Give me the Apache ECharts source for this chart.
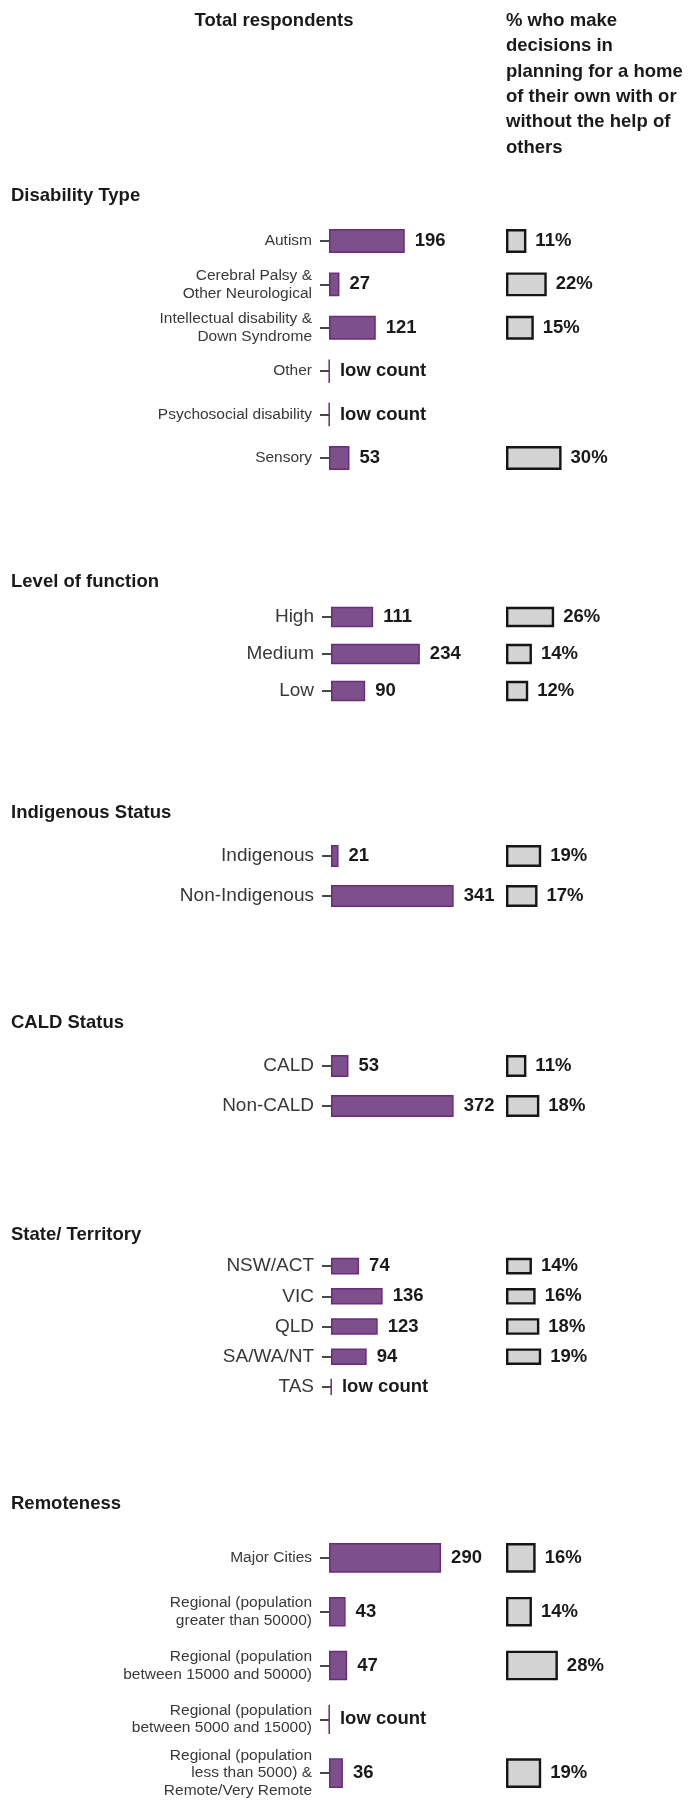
<!DOCTYPE html>
<html>
<head>
<meta charset="utf-8">
<script src="https://cdn.jsdelivr.net/npm/echarts@6/dist/echarts.min.js"></script>
<style>
  html, body { margin: 0; padding: 0; background: #ffffff; }
  #chart { width: 689px; height: 1800px; }
</style>
</head>
<body>
<div id="chart"></div>
<script>
// ---- data ----
const headerLeft = 'Total respondents';
const headerRight = ['% who make', 'decisions in', 'planning for a home', 'of their own with or', 'without the help of', 'others'];
const sectionTitles = ['Disability Type', 'Level of function', 'Indigenous Status', 'CALD Status', 'State/ Territory', 'Remoteness'];

const disabilityCats = ['Autism', 'Cerebral Palsy &\nOther Neurological', 'Intellectual disability &\nDown Syndrome', 'Other', 'Psychosocial disability', 'Sensory'];
const disabilityCounts = [196, 27, 121, null, null, 53];
const disabilityPct = [11, 22, 15, null, null, 30];

const functionCats = ['High', 'Medium', 'Low'];
const functionCounts = [111, 234, 90];
const functionPct = [26, 14, 12];

const indigenousCats = ['Indigenous', 'Non-Indigenous'];
const indigenousCounts = [21, 341];
const indigenousPct = [19, 17];

const caldCats = ['CALD', 'Non-CALD'];
const caldCounts = [53, 372];
const caldPct = [11, 18];

const stateCats = ['NSW/ACT', 'VIC', 'QLD', 'SA/WA/NT', 'TAS'];
const stateCounts = [74, 136, 123, 94, null];
const statePct = [14, 16, 18, 19, null];

const remoteCats = ['Major Cities', 'Regional (population\ngreater than 50000)', 'Regional (population\nbetween 15000 and 50000)', 'Regional (population\nbetween 5000 and 15000)', 'Regional (population\nless than 5000) &\nRemote/Very Remote'];
const remoteCounts = [290, 43, 47, null, 36];
const remotePct = [16, 14, 28, null, 19];

// counts suppressed for small groups are drawn as a hairline stub
const LOW_COUNT_LABEL = 'low count';
const LOW_COUNT_STUB = 1;

// ---- layout ----
const FONT = '"Liberation Sans", Arial, Helvetica, sans-serif';
const PURPLE = '#7d4f8b';
const PURPLE_EDGE = '#6a2c7e';
const GREY = '#d3d3d3';
const GREY_EDGE = '#151515';

const sections = [
  { cats: disabilityCats, counts: disabilityCounts, pct: disabilityPct, titleY: 197, top: 219.3, step: 43.4, left: 329, countMax: 388, labelSize: 15.5 },
  { cats: functionCats, counts: functionCounts, pct: functionPct, titleY: 583, top: 598.5, step: 37, left: 331, countMax: 395, labelSize: 19 },
  { cats: indigenousCats, counts: indigenousCounts, pct: indigenousPct, titleY: 814, top: 836, step: 40, left: 331, countMax: 417, labelSize: 19 },
  { cats: caldCats, counts: caldCounts, pct: caldPct, titleY: 1024, top: 1046, step: 40, left: 331, countMax: 455, labelSize: 19 },
  { cats: stateCats, counts: stateCounts, pct: statePct, titleY: 1236, top: 1251, step: 30.2, left: 331, countMax: 395, labelSize: 19 },
  { cats: remoteCats, counts: remoteCounts, pct: remotePct, titleY: 1505, top: 1531, step: 54, left: 329, countMax: 388, labelSize: 15.5 }
];
const COUNT_W = 150;
const PCT_LEFT = 506;
const PCT_W = 100;
const PCT_MAX = 54;

const grid = [], xAxis = [], yAxis = [], series = [], graphic = [];

sections.forEach((s, i) => {
  const h = s.cats.length * s.step;
  const gc = i * 2, gp = i * 2 + 1;
  grid.push({ left: s.left, top: s.top, width: COUNT_W, height: h });
  grid.push({ left: PCT_LEFT, top: s.top, width: PCT_W, height: h });

  xAxis.push({ gridIndex: gc, type: 'value', min: 0, max: s.countMax, show: false });
  xAxis.push({ gridIndex: gp, type: 'value', min: 0, max: PCT_MAX, show: false });

  yAxis.push({
    gridIndex: gc, type: 'category', inverse: true, data: s.cats, offset: 4,
    axisLine: { show: false },
    axisTick: { show: true, length: 9, alignWithLabel: true, lineStyle: { color: '#333333', width: 1.8 } },
    axisLabel: { margin: 13, color: '#383838', fontFamily: FONT, fontSize: s.labelSize, lineHeight: s.labelSize * 1.15, align: 'right' },
    splitLine: { show: false }
  });
  yAxis.push({ gridIndex: gp, type: 'category', inverse: true, data: s.cats, show: false });

  series.push({
    type: 'bar', xAxisIndex: gc, yAxisIndex: gc, barWidth: '55%',
    itemStyle: { color: PURPLE, borderColor: PURPLE_EDGE, borderWidth: 1.5 },
    label: { show: true, position: 'right', distance: 10, color: '#1a1a1a', fontFamily: FONT, fontWeight: 'bold', fontSize: 18.5 },
    data: s.counts.map(v => v === null
      ? { value: LOW_COUNT_STUB, label: { formatter: LOW_COUNT_LABEL } }
      : v),
    silent: true, animation: false
  });
  series.push({
    type: 'bar', xAxisIndex: gp, yAxisIndex: gp, barWidth: '55%',
    itemStyle: { color: GREY, borderColor: GREY_EDGE, borderWidth: 2.4 },
    label: { show: true, position: 'right', distance: 9, color: '#1a1a1a', fontFamily: FONT, fontWeight: 'bold', fontSize: 18.5, formatter: p => p.value + '%' },
    data: s.pct.map(v => v === null ? '-' : v),
    silent: true, animation: false
  });

  graphic.push({
    type: 'text', left: 11, top: s.titleY - 11,
    style: { text: sectionTitles[i], fill: '#1a1a1a', font: 'bold 18.5px ' + FONT }
  });
});

graphic.push({
  type: 'text', x: 274, y: 21,
  style: { text: headerLeft, fill: '#1a1a1a', font: 'bold 18.5px ' + FONT, align: 'center', verticalAlign: 'middle' }
});
headerRight.forEach((line, k) => {
  graphic.push({
    type: 'text', x: PCT_LEFT, y: 21 + k * 25.3,
    style: { text: line, fill: '#1a1a1a', font: 'bold 18.5px ' + FONT, align: 'left', verticalAlign: 'middle' }
  });
});

const chart = echarts.init(document.getElementById('chart'), null, { renderer: 'canvas' });
chart.setOption({
  backgroundColor: '#ffffff',
  animation: false,
  grid, xAxis, yAxis, series, graphic
});
</script>
</body>
</html>
